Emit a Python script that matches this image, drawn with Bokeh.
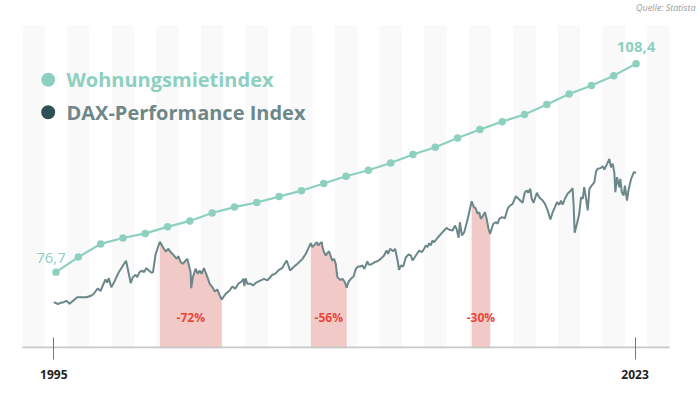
from bokeh.plotting import figure
from bokeh.models import Range1d, FixedTicker, Label
from bokeh.embed import file_html
from bokeh.resources import INLINE

# ---------------- data ----------------
rent_values = [76.7, 79.0, 81.0, 81.9, 82.6, 83.6, 84.5, 85.7, 86.6, 87.3, 88.2, 89.1,
               90.2, 91.3, 92.2, 93.3, 94.6, 95.7, 97.1, 98.4, 99.6, 100.7, 102.2,
               103.8, 105.1, 106.6, 108.4]

dax_year = [1995.0, 1995.2, 1995.32, 1995.48, 1995.61, 1995.76, 1995.96, 1996.13, 1996.58, 1996.82,
            1996.93, 1997.06, 1997.12, 1997.25, 1997.36, 1997.49, 1997.57, 1997.65, 1997.77, 1997.89,
            1998.13, 1998.48, 1998.65, 1998.70, 1998.81, 1998.94, 1999.02, 1999.13, 1999.26, 1999.34,
            1999.46, 1999.58, 1999.71, 1999.78, 1999.90, 2000.11, 2000.26, 2000.39, 2000.52, 2000.63,
            2000.79, 2000.92, 2001.00, 2001.11, 2001.22, 2001.35, 2001.43, 2001.59, 2001.62, 2001.70,
            2001.83, 2001.94, 2002.03, 2002.12, 2002.23, 2002.40, 2002.51, 2002.64, 2002.76, 2002.88,
            2002.99, 2003.09, 2003.28, 2003.47, 2003.60, 2003.73, 2003.89, 2004.05, 2004.13, 2004.18,
            2004.24, 2004.32, 2004.48, 2004.60, 2004.73, 2004.97, 2005.13, 2005.29, 2005.53, 2005.66,
            2005.85, 2006.01, 2006.12, 2006.22, 2006.33, 2006.38, 2006.54, 2006.74, 2006.98, 2007.14,
            2007.25, 2007.38, 2007.46, 2007.57, 2007.67, 2007.75, 2007.83, 2007.91, 2007.94, 2008.02,
            2008.10, 2008.18, 2008.26, 2008.34, 2008.42, 2008.50, 2008.58, 2008.66, 2008.79, 2008.91,
            2009.02, 2009.11, 2009.19, 2009.31, 2009.44, 2009.55, 2009.66, 2009.75, 2009.87, 2009.95,
            2010.03, 2010.11, 2010.16, 2010.27, 2010.46, 2010.59, 2010.75, 2010.91, 2011.03, 2011.10,
            2011.20, 2011.35, 2011.44, 2011.56, 2011.63, 2011.72, 2011.83, 2011.96, 2012.09, 2012.20,
            2012.28, 2012.44, 2012.60, 2012.73, 2012.84, 2012.92, 2013.00, 2013.08, 2013.16, 2013.24,
            2013.32, 2013.49, 2013.65, 2013.80, 2013.92, 2014.05, 2014.21, 2014.32, 2014.40, 2014.50,
            2014.56, 2014.66, 2014.77, 2014.88, 2015.01, 2015.13, 2015.22, 2015.33, 2015.41, 2015.49,
            2015.57, 2015.68, 2015.77, 2015.85, 2015.94, 2016.02, 2016.09, 2016.17, 2016.30, 2016.38,
            2016.46, 2016.59, 2016.73, 2016.86, 2016.94, 2017.10, 2017.26, 2017.42, 2017.58, 2017.69,
            2017.79, 2017.85, 2017.95, 2018.02, 2018.11, 2018.27, 2018.38, 2018.55, 2018.66, 2018.79,
            2018.92, 2019.03, 2019.14, 2019.24, 2019.35, 2019.43, 2019.51, 2019.62, 2019.75, 2019.91,
            2019.99, 2020.04, 2020.09, 2020.20, 2020.31, 2020.40, 2020.48, 2020.55, 2020.64, 2020.72,
            2020.80, 2020.91, 2021.04, 2021.12, 2021.20, 2021.33, 2021.44, 2021.52, 2021.65, 2021.76,
            2021.84, 2021.92, 2022.00, 2022.05, 2022.13, 2022.24, 2022.29, 2022.36, 2022.45, 2022.51,
            2022.61, 2022.68, 2022.81, 2022.94, 2023.05]

dax_value = [2130, 1950, 2070, 2130, 2260, 1970, 2320, 2610, 2610, 2775,
             2940, 3310, 3450, 3210, 3740, 4320, 4030, 4450, 3580, 4000,
             5030, 6130, 4520, 3980, 4550, 4780, 4550, 5030, 5190, 5030,
             5420, 5190, 4970, 5030, 6740, 7970, 7450, 7030, 7290, 6960,
             6640, 6320, 6580, 6000, 5840, 6160, 6320, 5030, 3480, 4550,
             5360, 4870, 5190, 4870, 5420, 4550, 3910, 3580, 3160, 3360,
             2780, 2390, 2940, 3260, 3650, 3420, 3910, 4130, 4390, 3680,
             4450, 3910, 3910, 3740, 4000, 4230, 4390, 4230, 4780, 4870,
             5260, 5450, 5840, 6160, 5510, 5190, 5510, 5840, 6320, 6810,
             7290, 7830, 7450, 7710, 7930, 7610, 7830, 7930, 7450, 6960,
             6640, 6870, 7060, 6550, 6160, 6320, 5840, 4550, 4290, 4390,
             4060, 3520, 4060, 4390, 4610, 5360, 5580, 5580, 5680, 5360,
             5680, 6090, 5770, 5770, 6000, 6090, 6320, 6640, 7130, 6810,
             7290, 7060, 7290, 6160, 5260, 5680, 5580, 6480, 6740, 6640,
             6160, 6640, 7130, 6960, 7290, 7610, 7450, 7830, 7610, 8090,
             7930, 8360, 8740, 9060, 9320, 9130, 9060, 9540, 9230, 8360,
             9860, 8580, 8900, 9710, 10830, 11890, 11380, 11160, 10680, 10830,
             10190, 10510, 10830, 10190, 9230, 8740, 9230, 9710, 9860, 9710,
             10190, 10350, 10250, 11160, 11410, 11640, 12380, 12060, 11740, 12760,
             12930, 12710, 13090, 12130, 11740, 12710, 12280, 11960, 11640, 11000,
             10120, 10830, 11310, 11800, 11550, 11960, 11550, 12130, 12610, 12930,
             13150, 11480, 8840, 9710, 10680, 12280, 12130, 13250, 12130, 11000,
             13090, 13410, 13730, 14770, 15030, 15090, 15280, 14960, 15510, 15990,
             15180, 15510, 14700, 12760, 14220, 13250, 14060, 12760, 12450, 13410,
             11960, 12930, 14060, 14700, 14640]

drawdown_start = [2000.11, 2007.38, 2015.13]
drawdown_end = [2003.09, 2009.11, 2016.02]
drawdown_labels = ["-72%", "-56%", "-30%"]

tick_years = [1995, 2023]
series_names = ["Wohnungsmietindex", "DAX-Performance Index"]
source_text = "Quelle: Statista"

# ---------------- styles ----------------
MINT = "#8dd0bf"
DARK = "#2e5156"
DAX_LINE = "#6b878a"
DAX_TEXT = "#6e8789"
STRIPE = "#f9f9f9"
BAND = "#f1cac7"
RED = "#e8463b"
FONT = "Open Sans"

# scales (frame covers whole canvas except the axis strip at the bottom)
W, H, AXIS_H = 700, 397, 49
PX_YEAR = 20.76          # px per year, 1995 at px 53.3
PX_IDX = 22.31           # px per rent point, point 0 at px 55.5
PX_RENT = 6.574          # px per index point, 76.7 at px 271.7
X0, X1 = 1995 - 53.3 / PX_YEAR, 1995 + (W - 53.3) / PX_YEAR
I0, I1 = -(55.5 / PX_IDX), (W - 55.5) / PX_IDX
Y0 = 76.7 - (H - AXIS_H - 271.7) / PX_RENT
Y1 = 76.7 + 271.7 / PX_RENT
D0, D1 = -(H - AXIS_H - 323.7) * 96.7, 323.7 * 96.7
STRIPE_TOP = 76.7 + (271.7 - 25) / PX_RENT
AXIS_Y = Y0 + 1.0 / PX_RENT

p = figure(width=W, height=H, output_backend="svg", toolbar_location=None,
           x_range=Range1d(X0, X1), y_range=Range1d(Y0, Y1),
           y_axis_location=None,
           min_border_left=0, min_border_right=0, min_border_top=0, min_border_bottom=AXIS_H)
p.extra_x_ranges = {"idx": Range1d(I0, I1)}
p.extra_y_ranges = {"dax": Range1d(D0, D1)}
p.outline_line_color = None
p.grid.visible = False
p.background_fill_color = "white"
p.border_fill_color = "white"

n = len(rent_values)
# background stripes (one per rent point plus one padding on each side)
stripe_x = list(range(-1, n + 1, 2))
p.vbar(x=stripe_x, width=1, bottom=Y0, top=STRIPE_TOP, x_range_name="idx",
       fill_color=STRIPE, line_color=None)

# drawdown bands
for s, e in zip(drawdown_start, drawdown_end):
    xs = [yr for yr in dax_year if s <= yr <= e]
    ys = [v for yr, v in zip(dax_year, dax_value) if s <= yr <= e]
    p.varea(x=xs, y1=[D0] * len(xs), y2=ys, y_range_name="dax",
            fill_color=BAND, fill_alpha=1)

# baseline
p.segment(x0=[-1.5], y0=[AXIS_Y], x1=[n + 0.5], y1=[AXIS_Y], x_range_name="idx",
          line_color="#c9c9c9", line_width=2)

# DAX line
p.line(dax_year, dax_value, y_range_name="dax", line_color=DAX_LINE, line_width=2)

# rent index
rent_idx = list(range(n))
p.line(rent_idx, rent_values, x_range_name="idx", line_color=MINT, line_width=2.2)
p.scatter(rent_idx, rent_values, x_range_name="idx", size=7.5,
          fill_color=MINT, line_color=None)

# first / last value labels
fmt = lambda v: f"{v:.1f}".replace(".", ",")
p.add_layout(Label(x=rent_idx[0], y=rent_values[0], x_range_name="idx",
                   text=fmt(rent_values[0]), text_font=FONT, text_font_size="15px",
                   text_color=MINT, text_align="center", text_baseline="middle",
                   x_offset=-5, y_offset=14.5))
p.add_layout(Label(x=rent_idx[-1], y=rent_values[-1], x_range_name="idx",
                   text=fmt(rent_values[-1]), text_font=FONT, text_font_size="15px",
                   text_font_style="bold", text_color=MINT, text_align="center",
                   text_baseline="middle", x_offset=0, y_offset=16.5))

# drawdown labels
for s, e, t in zip(drawdown_start, drawdown_end, drawdown_labels):
    p.add_layout(Label(x=(s + e) / 2, y=69.76, text=t, text_font=FONT,
                       text_font_size="12px", text_font_style="bold", text_color=RED,
                       text_align="center", text_baseline="middle"))

# legend
p.scatter([1994.73, 1994.73], [105.97, 101.04], size=14, fill_color=[MINT, DARK], line_color=None)
p.add_layout(Label(x=1995.61, y=105.97, text=series_names[0], text_font=FONT,
                   text_font_size="20px", text_font_style="bold", text_color=MINT,
                   text_baseline="middle"))
p.add_layout(Label(x=1995.61, y=101.04, text=series_names[1], text_font=FONT,
                   text_font_size="20px", text_font_style="bold", text_color=DAX_TEXT,
                   text_baseline="middle"))

# source
p.add_layout(Label(x=1995 + (695 - 53.3) / PX_YEAR, y=76.7 + (271.7 - 7) / PX_RENT,
                   text=source_text, text_font=FONT, text_font_size="9px",
                   text_font_style="italic", text_color="#9a9a9a",
                   text_align="right", text_baseline="middle"))

# x axis (ticks and labels only; baseline drawn above)
ax = p.xaxis[0]
ax.ticker = FixedTicker(ticks=tick_years)
ax.axis_line_color = None
ax.major_tick_line_color = "#777777"
ax.major_tick_line_width = 1
ax.major_tick_in = 11
ax.major_tick_out = 11
ax.minor_tick_line_color = None
ax.major_label_standoff = 10
ax.major_label_text_font = FONT
ax.major_label_text_font_size = "12px"
ax.major_label_text_font_style = "bold"
ax.major_label_text_color = "#222222"

open("out.html", "w").write(file_html(p, INLINE))
